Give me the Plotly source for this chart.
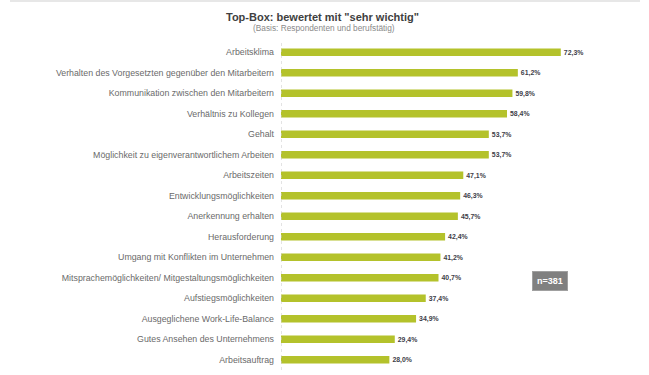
import plotly.graph_objects as go

categories = [
    "Arbeitsklima",
    "Verhalten des Vorgesetzten gegenüber den Mitarbeitern",
    "Kommunikation zwischen den Mitarbeitern",
    "Verhältnis zu Kollegen",
    "Gehalt",
    "Möglichkeit zu eigenverantwortlichem Arbeiten",
    "Arbeitszeiten",
    "Entwicklungsmöglichkeiten",
    "Anerkennung erhalten",
    "Herausforderung",
    "Umgang mit Konflikten im Unternehmen",
    "Mitsprachemöglichkeiten/ Mitgestaltungsmöglichkeiten",
    "Aufstiegsmöglichkeiten",
    "Ausgeglichene Work-Life-Balance",
    "Gutes Ansehen des Unternehmens",
    "Arbeitsauftrag",
]
values = [72.3, 61.2, 59.8, 58.4, 53.7, 53.7, 47.1, 46.3, 45.7, 42.4, 41.2, 40.7, 37.4, 34.9, 29.4, 28.0]
value_labels = [f"{v:.1f}%".replace(".", ",") for v in values]

title = "Top-Box: bewertet mit \"sehr wichtig\""
subtitle = "(Basis: Respondenten und berufstätig)"
n_label = "n=381"

W, H = 649, 375
ml, mr, mt, mb = 281, 0, 42, 5
pw, ph = W - ml - mr, H - mt - mb

def py(y):
    return (H - mb - y) / ph

def px(x):
    return (x - ml) / pw

fig = go.Figure(go.Bar(
    y=categories, x=values, orientation="h",
    marker=dict(color="#b4c22b", line=dict(width=0)),
    width=0.37,
    text=value_labels, textposition="outside", cliponaxis=False,
    textfont=dict(family="Liberation Sans, Arial", size=10, color="#404048"),
    texttemplate="<b>%{text}</b>",
))

fig.update_layout(
    width=W, height=H,
    margin=dict(l=ml, r=mr, t=mt, b=mb),
    paper_bgcolor="white", plot_bgcolor="white",
    showlegend=False,
    bargap=0.6,
    font=dict(family="Liberation Sans, Arial", size=8.8, color="#6a6a6a"),
    xaxis=dict(range=[0, pw / 3.87], visible=False),
    yaxis=dict(autorange="reversed", showgrid=False, zeroline=False, showline=False,
               ticks="", ticklabelstandoff=6, tickfont=dict(size=8.8, color="#6a6a6a")),
    shapes=[
        dict(type="line", xref="x", yref="paper", x0=0, x1=0, y0=0, y1=py(40),
             line=dict(color="#c8c8c8", width=1, dash="dot")),
        dict(type="line", xref="paper", yref="paper", x0=px(10), x1=px(640), y0=py(1), y1=py(1),
             line=dict(color="#cfcfcf", width=1)),
    ],
    annotations=[
        dict(text="<b>" + title + "</b>", xref="paper", yref="paper", x=px(322), y=py(17),
             xanchor="center", yanchor="middle",
             showarrow=False, font=dict(size=11, color="#404040")),
        dict(text=subtitle, xref="paper", yref="paper", x=px(324), y=py(28),
             xanchor="center", yanchor="middle",
             showarrow=False, font=dict(size=8.3, color="#8a8a8a")),
        dict(text="<b>" + n_label + "</b>", xref="paper", yref="paper", x=px(550), y=py(281),
             xanchor="center", yanchor="middle",
             showarrow=False, font=dict(size=9, color="white"), bgcolor="#808080",
             borderpad=4, bordercolor="#a0a0a0", borderwidth=1),
    ],
)

fig.write_html("out.html")
